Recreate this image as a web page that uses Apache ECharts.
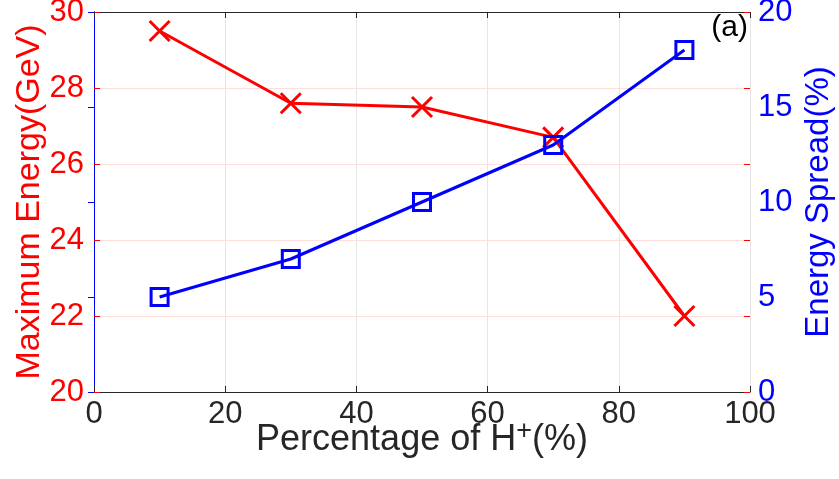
<!DOCTYPE html>
<html>
<head>
<meta charset="utf-8">
<script src="https://cdn.jsdelivr.net/npm/echarts@6/dist/echarts.min.js"></script>
<style>
  html, body { margin: 0; padding: 0; background: #fff; }
  #chart { width: 839px; height: 479px; }
</style>
</head>
<body>
<div id="chart"></div>
<script>
  // data
  var percentH = [10, 30, 50, 70, 90];
  var maxEnergy = [29.5, 27.6, 27.5, 26.7, 22.0];
  var energySpread = [5, 7, 10, 13, 18];

  var FONT = 'Liberation Sans, Arial, sans-serif';
  var myChart = echarts.init(document.getElementById('chart'));

  var option = {
    animation: false,
    textStyle: { fontFamily: FONT },
    grid: { left: 94, right: 89, top: 12, bottom: 87, outerBoundsMode: 'none' },
    xAxis: [
      {
        type: 'value', min: 0, max: 100, interval: 20,
        name: '{n|Percentage of H}{s|+}{n|(%)}',
        nameLocation: 'middle', nameGap: 26, nameMoveOverlap: false,
        nameTextStyle: {
          rich: {
            n: { fontSize: 36, color: '#262626', fontFamily: FONT },
            s: { fontSize: 27, color: '#262626', fontFamily: FONT, padding: [0, 0, 18, 0] }
          }
        },
        axisLine: { lineStyle: { color: '#262626', width: 1 } },
        axisTick: { inside: true, length: 6, lineStyle: { color: '#262626' } },
        axisLabel: { fontSize: 31, color: '#262626', margin: 7 },
        splitLine: { show: true, lineStyle: { color: '#e6e6e6', width: 1 } }
      },
      {
        type: 'value', min: 0, max: 100, interval: 20, position: 'top',
        axisLine: { show: true, lineStyle: { color: '#262626', width: 1 } },
        axisTick: { show: true, inside: true, length: 6, lineStyle: { color: '#262626' } },
        axisLabel: { show: false },
        splitLine: { show: false }
      }
    ],
    yAxis: [
      {
        type: 'value', min: 20, max: 30, interval: 2, position: 'left',
        name: 'Maximum Energy(GeV)',
        nameLocation: 'middle', nameGap: 47, nameRotate: 90, nameMoveOverlap: false,
        nameTextStyle: { fontSize: 34, color: '#ff0000' },
        axisLine: { show: true, lineStyle: { color: '#ff0000', width: 1 } },
        axisTick: { show: true, inside: true, length: 6, lineStyle: { color: '#ff0000' } },
        axisLabel: { fontSize: 31, color: '#ff0000', margin: 10 },
        splitLine: { show: true, lineStyle: { color: '#ffdede', width: 1 } }
      },
      {
        type: 'value', min: 0, max: 20, interval: 5, position: 'right',
        name: 'Energy Spread(%)',
        nameLocation: 'middle', nameGap: 52, nameRotate: 90, nameMoveOverlap: false,
        nameTextStyle: { fontSize: 33, color: '#0000ff' },
        axisLine: { show: true, lineStyle: { color: '#0000ff', width: 1 } },
        axisTick: { show: true, inside: true, length: 6, lineStyle: { color: '#0000ff' } },
        axisLabel: { fontSize: 31, color: '#0000ff', margin: 8 },
        splitLine: { show: false }
      },
      {
        // left-axis ticks repeated on the right side
        type: 'value', min: 20, max: 30, interval: 2, position: 'right',
        axisLine: { show: false },
        axisTick: { show: true, inside: true, length: 6, lineStyle: { color: '#ff0000' } },
        axisLabel: { show: false },
        splitLine: { show: false }
      }
    ],
    graphic: [
      {
        type: 'text', right: 91, top: 13, z: 100,
        style: { text: '(a)', fontSize: 30, fill: '#000', fontFamily: FONT }
      }
    ],
    series: [
      {
        name: 'Maximum Energy', type: 'line', yAxisIndex: 0,
        data: percentH.map(function (x, i) { return [x, maxEnergy[i]]; }),
        lineStyle: { color: '#ff0000', width: 3 },
        symbol: 'path://M0,0L10,10M10,0L0,10', symbolSize: 20,
        itemStyle: { color: '#ff0000', borderColor: '#ff0000', borderWidth: 3 },
        z: 2
      },
      {
        name: 'Energy Spread', type: 'line', yAxisIndex: 1,
        data: percentH.map(function (x, i) { return [x, energySpread[i]]; }),
        lineStyle: { color: '#0000ff', width: 3 },
        symbol: 'rect', symbolSize: 17,
        itemStyle: { color: 'rgba(0,0,0,0)', borderColor: '#0000ff', borderWidth: 3 },
        z: 3
      }
    ]
  };
  myChart.setOption(option);
</script>
</body>
</html>
